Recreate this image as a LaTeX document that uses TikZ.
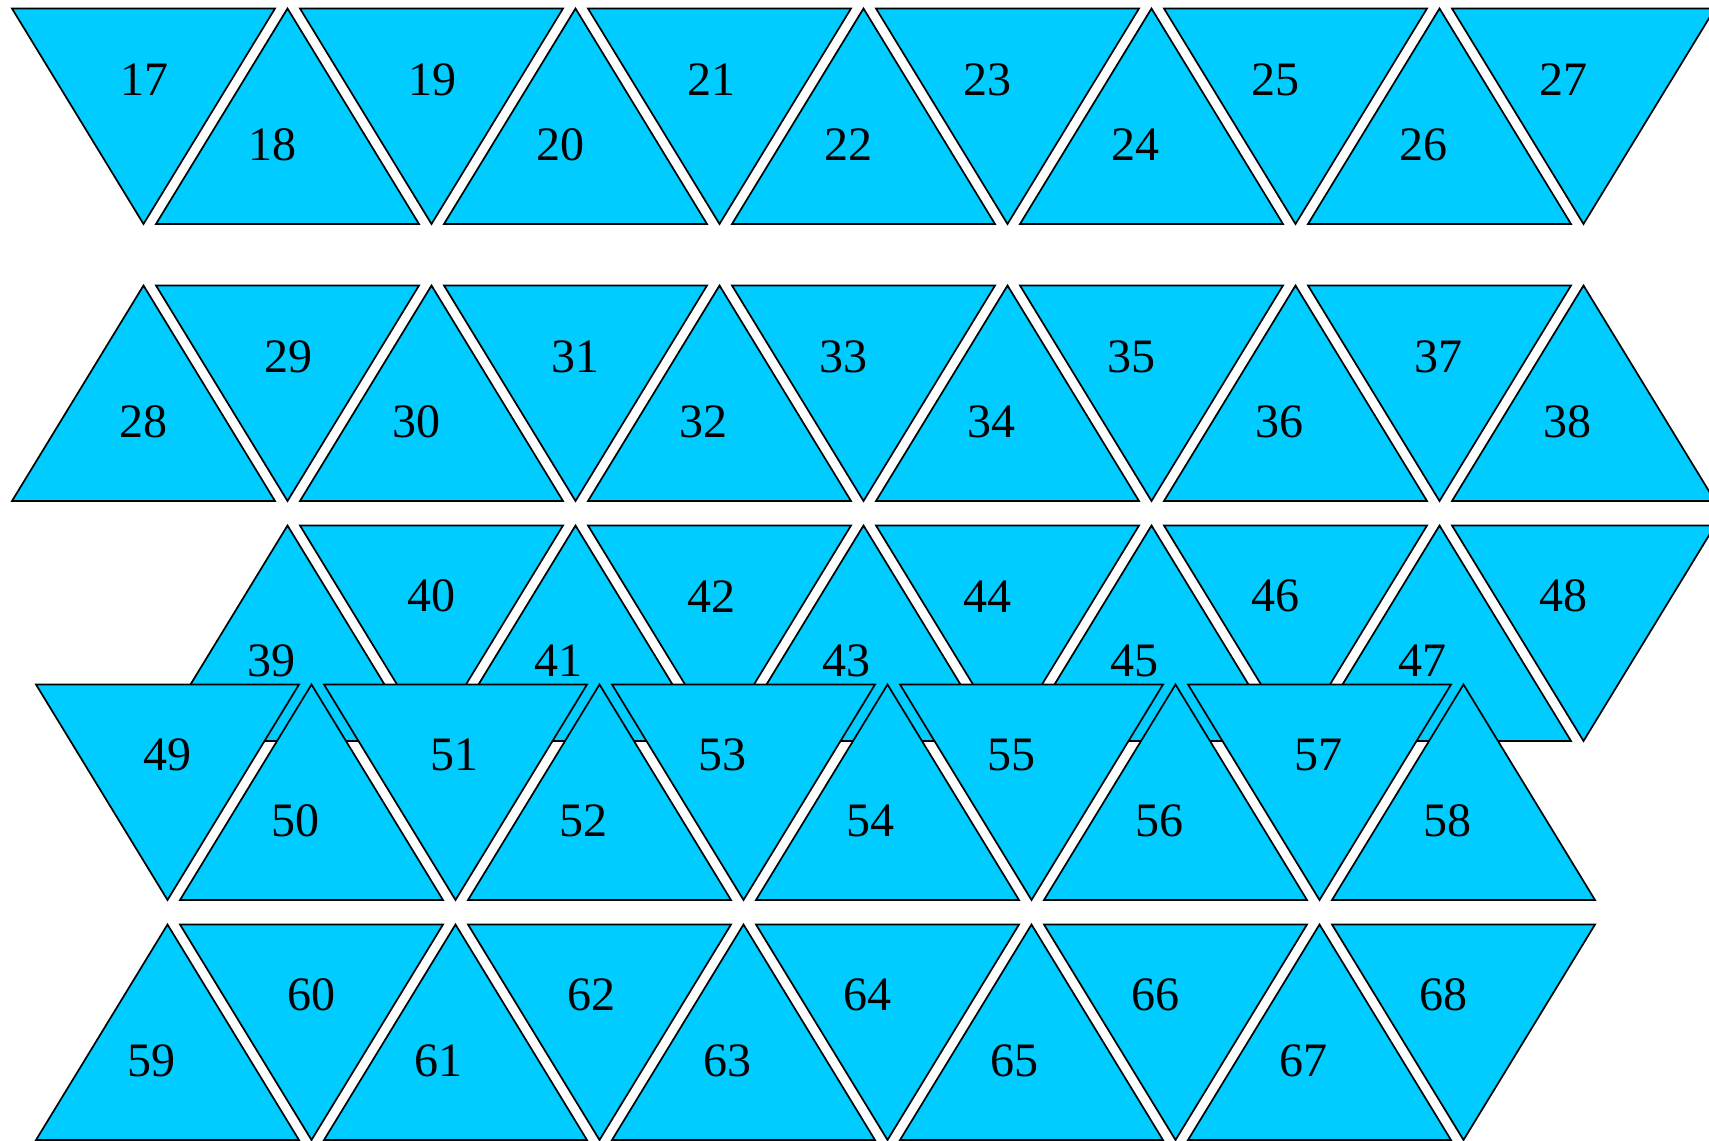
\documentclass[tikz,border=0pt]{standalone}
\usepackage{fontspec}
\setmainfont{Liberation Serif}
\definecolor{tricyan}{RGB}{0,204,255}
\tikzset{
  tri/.style={fill=tricyan, draw=black, line width=0.85pt, line join=miter},
  lbl/.style={font=\fontsize{24}{29}\selectfont, inner sep=0pt, anchor=center}
}
% #1 top y, #2 left x of first triangle, #3 first orientation (0 down, 1 up), #4 last index
\newcommand{\trirow}[4]{%
  \foreach \k [evaluate=\k as \xl using {#2+144*\k},
               evaluate=\k as \isup using {int(mod(\k+#3,2))}] in {0,...,#4} {
    \ifnum\isup=1
      \draw[tri] (\xl,#1+215.5) -- ++(263,0) -- ++(-131.5,-215.5) -- cycle;
    \else
      \draw[tri] (\xl,#1) -- ++(263,0) -- ++(-131.5,215.5) -- cycle;
    \fi
  }%
}
\begin{document}
\begin{tikzpicture}[x=0.5pt,y=-0.5pt]
\useasboundingbox (0,0) rectangle (1709,1141);
\fill[white] (0,0) rectangle (1709,1141);
\clip (0,0) rectangle (1709,1141);

% triangles
\trirow{8.5}{12}{0}{10}
\trirow{285.5}{12}{1}{10}
\trirow{525.5}{156}{1}{9}
\trirow{684.5}{36}{0}{9}
\trirow{924.5}{36}{1}{9}

% labels rows 1-3
\foreach \n/\x/\y in {17/144.5/79.6, 18/272.5/145.0, 19/432.7/79.6, 20/560.2/145.0,
  21/711.7/79.6, 22/848.0/145.0, 23/987.5/79.6, 24/1135.7/145.0, 25/1275.2/79.6,
  26/1423.4/145.0, 27/1563.0/79.6,
  28/143.9/421.8, 29/288.8/356.4, 30/416.3/421.8, 31/575.5/356.4, 32/703.0/421.8,
  33/843.6/356.4, 34/991.8/421.8, 35/1131.3/356.4, 36/1279.6/421.8, 37/1438.7/356.4,
  38/1567.3/421.8,
  39/271.4/660.5, 40/431.6/596.2, 41/558.0/660.5, 42/711.7/596.2, 43/846.9/660.5,
  44/987.5/596.2, 45/1134.6/660.5, 46/1275.2/596.2, 47/1422.3/660.5, 48/1563.0/596.2}
  \node[lbl] (n\n) at (\x,\y) {\n};

% labels rows 4-5
\foreach \n/\x/\y in {49/167.8/755.3, 50/295.4/820.7, 51/454.5/755.3, 52/583.1/820.7,
  53/722.6/755.3, 54/870.9/820.7, 55/1011.4/755.3, 56/1159.7/820.7, 57/1318.8/755.3,
  58/1447.4/820.7,
  59/151.5/1060.5, 60/311.7/995.1, 61/438.1/1060.5, 62/591.8/995.1, 63/727.0/1060.5,
  64/867.6/995.1, 65/1014.7/1060.5, 66/1155.3/995.1, 67/1303.5/1060.5, 68/1443.1/995.1}
  \node[lbl] (n\n) at (\x,\y) {\n};
\end{tikzpicture}
\end{document}
